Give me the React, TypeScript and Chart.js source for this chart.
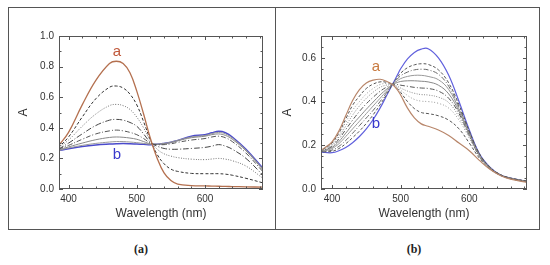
import React, { useEffect, useRef } from "react";
import { Chart, registerables } from "chart.js";
Chart.register(...registerables);

// ---------- Panel (a) data ----------
const WL_A = [385, 400, 420, 440, 460, 470, 480, 490, 500, 510, 520, 530, 540, 550, 560, 580, 600, 610, 620, 630, 640, 660, 685];
const A_CURVE_A = [0.28, 0.37, 0.55, 0.71, 0.82, 0.835, 0.82, 0.76, 0.64, 0.49, 0.33, 0.2, 0.105, 0.055, 0.032, 0.022, 0.02, 0.019, 0.018, 0.017, 0.016, 0.014, 0.012];
const A_CURVE_2 = [0.27, 0.34, 0.47, 0.59, 0.665, 0.673, 0.66, 0.62, 0.55, 0.44, 0.32, 0.225, 0.165, 0.13, 0.115, 0.102, 0.1, 0.1, 0.1, 0.097, 0.09, 0.07, 0.04];
const A_CURVE_3 = [0.27, 0.32, 0.41, 0.49, 0.545, 0.553, 0.545, 0.52, 0.47, 0.4, 0.315, 0.26, 0.23, 0.215, 0.205, 0.195, 0.192, 0.196, 0.2, 0.195, 0.185, 0.15, 0.07];
const A_CURVE_4 = [0.26, 0.3, 0.36, 0.415, 0.45, 0.455, 0.45, 0.435, 0.41, 0.36, 0.305, 0.28, 0.265, 0.26, 0.26, 0.265, 0.272, 0.28, 0.29, 0.28, 0.26, 0.2, 0.09];
const A_CURVE_5 = [0.26, 0.285, 0.325, 0.36, 0.38, 0.385, 0.38, 0.37, 0.355, 0.33, 0.3, 0.29, 0.29, 0.295, 0.305, 0.32, 0.33, 0.34, 0.345, 0.335, 0.31, 0.235, 0.113];
const A_CURVE_6 = [0.255, 0.275, 0.3, 0.322, 0.337, 0.34, 0.338, 0.333, 0.325, 0.31, 0.295, 0.292, 0.295, 0.303, 0.315, 0.335, 0.345, 0.355, 0.36, 0.35, 0.325, 0.25, 0.125];
const A_CURVE_7 = [0.25, 0.268, 0.285, 0.298, 0.307, 0.31, 0.31, 0.307, 0.303, 0.298, 0.292, 0.293, 0.298, 0.306, 0.318, 0.34, 0.35, 0.362, 0.37, 0.36, 0.333, 0.255, 0.13];
const A_CURVE_B = [0.25, 0.263, 0.278, 0.288, 0.294, 0.296, 0.297, 0.296, 0.294, 0.292, 0.29, 0.292, 0.298, 0.306, 0.318, 0.345, 0.355, 0.367, 0.377, 0.368, 0.34, 0.26, 0.135];

// ---------- Panel (b) data ----------
const WL_B = [380, 390, 400, 410, 420, 430, 440, 450, 460, 470, 480, 488, 495, 500, 510, 520, 530, 540, 555, 570, 585, 600, 615, 630, 645, 660, 685];
const B_CURVE_A = [0.17, 0.19, 0.215, 0.265, 0.335, 0.405, 0.455, 0.485, 0.498, 0.502, 0.492, 0.478, 0.455, 0.43, 0.37, 0.325, 0.298, 0.287, 0.27, 0.245, 0.21, 0.175, 0.13, 0.09, 0.062, 0.045, 0.03];
const B_CURVE_1 = [0.17, 0.17, 0.172, 0.185, 0.207, 0.235, 0.265, 0.3, 0.34, 0.385, 0.435, 0.478, 0.51, 0.53, 0.555, 0.568, 0.573, 0.57, 0.545, 0.485, 0.385, 0.265, 0.16, 0.1, 0.066, 0.05, 0.035];
const B_CURVE_2 = [0.17, 0.172, 0.178, 0.195, 0.222, 0.255, 0.29, 0.325, 0.36, 0.4, 0.443, 0.478, 0.503, 0.518, 0.535, 0.545, 0.548, 0.545, 0.525, 0.47, 0.375, 0.26, 0.158, 0.099, 0.066, 0.05, 0.035];
const B_CURVE_3 = [0.17, 0.175, 0.185, 0.207, 0.24, 0.275, 0.31, 0.345, 0.38, 0.415, 0.45, 0.478, 0.495, 0.505, 0.515, 0.52, 0.52, 0.515, 0.5, 0.455, 0.365, 0.255, 0.155, 0.098, 0.065, 0.049, 0.034];
const B_CURVE_4 = [0.17, 0.178, 0.19, 0.217, 0.255, 0.295, 0.33, 0.365, 0.398, 0.43, 0.458, 0.478, 0.487, 0.492, 0.495, 0.495, 0.493, 0.49, 0.475, 0.435, 0.355, 0.25, 0.152, 0.097, 0.065, 0.049, 0.034];
const B_CURVE_5 = [0.17, 0.18, 0.195, 0.228, 0.272, 0.315, 0.355, 0.39, 0.42, 0.447, 0.467, 0.478, 0.478, 0.475, 0.47, 0.465, 0.462, 0.46, 0.448, 0.415, 0.345, 0.245, 0.15, 0.096, 0.064, 0.048, 0.034];
const B_CURVE_6 = [0.17, 0.183, 0.2, 0.238, 0.288, 0.338, 0.38, 0.415, 0.443, 0.465, 0.476, 0.478, 0.47, 0.462, 0.448, 0.438, 0.432, 0.43, 0.42, 0.395, 0.33, 0.24, 0.148, 0.095, 0.064, 0.048, 0.033];
const B_CURVE_7 = [0.17, 0.185, 0.205, 0.248, 0.305, 0.36, 0.4, 0.435, 0.46, 0.478, 0.483, 0.478, 0.465, 0.452, 0.428, 0.41, 0.402, 0.4, 0.392, 0.37, 0.315, 0.232, 0.145, 0.094, 0.063, 0.047, 0.033];
const B_CURVE_8 = [0.17, 0.187, 0.21, 0.256, 0.32, 0.383, 0.425, 0.46, 0.48, 0.49, 0.488, 0.478, 0.46, 0.442, 0.4, 0.368, 0.35, 0.345, 0.335, 0.315, 0.275, 0.21, 0.14, 0.092, 0.063, 0.047, 0.032];
const B_CURVE_B = [0.17, 0.167, 0.166, 0.175, 0.19, 0.212, 0.24, 0.275, 0.318, 0.37, 0.43, 0.478, 0.52, 0.55, 0.595, 0.625, 0.64, 0.642, 0.6, 0.52, 0.4, 0.27, 0.16, 0.1, 0.065, 0.05, 0.035];

// ---------- Ticks ----------
const X_TICKS = [400, 500, 600];
const X_MINOR = [400, 420, 440, 460, 480, 500, 520, 540, 560, 580, 600, 620, 640, 660, 680];
const Y_TICKS_A = [0, 0.2, 0.4, 0.6, 0.8, 1.0];
const Y_MINOR_A = [0, 0.1, 0.2, 0.3, 0.4, 0.5, 0.6, 0.7, 0.8, 0.9, 1.0];
const Y_TICKS_B = [0, 0.2, 0.4, 0.6];
const Y_MINOR_B = [0, 0.05, 0.1, 0.15, 0.2, 0.25, 0.3, 0.35, 0.4, 0.45, 0.5, 0.55, 0.6, 0.65, 0.7];

const X_TITLE = "Wavelength (nm)";
const Y_TITLE = "A";

type Style = { color: string; width: number; dash: number[] };

const FONT = "'Liberation Sans', Arial, sans-serif";

function buildDatasets(wl: number[], series: number[][], styles: Style[]) {
  return series.map((vals, i) => ({
    data: vals.map((v, j) => ({ x: wl[j], y: v })),
    borderColor: styles[i].color,
    borderWidth: styles[i].width,
    borderDash: styles[i].dash,
    pointRadius: 0,
    tension: 0.4,
    fill: false,
  }));
}

function framePlugin(yMinor: number[], yMajor: number[], labels: { text: string; x: number; y: number; color: string }[]) {
  return {
    id: "frameTicks",
    afterDatasetsDraw(chart: any) {
      const { ctx, chartArea } = chart;
      const { left, right, top, bottom } = chartArea;
      const xs = chart.scales.x;
      const ys = chart.scales.y;
      ctx.save();
      ctx.strokeStyle = "#555";
      ctx.lineWidth = 1;
      ctx.strokeRect(left + 0.5, top + 0.5, right - left - 1, bottom - top - 1);
      ctx.beginPath();
      X_MINOR.forEach((v) => {
        const px = Math.round(xs.getPixelForValue(v)) + 0.5;
        if (px < left || px > right) return;
        const len = X_TICKS.includes(v) ? 4 : 2.5;
        ctx.moveTo(px, bottom);
        ctx.lineTo(px, bottom - len);
        ctx.moveTo(px, top);
        ctx.lineTo(px, top + len);
      });
      yMinor.forEach((v) => {
        const py = Math.round(ys.getPixelForValue(v)) + 0.5;
        if (py < top - 1 || py > bottom + 1) return;
        const len = yMajor.some((m) => Math.abs(m - v) < 1e-9) ? 4 : 2.5;
        ctx.moveTo(left, py);
        ctx.lineTo(left + len, py);
        ctx.moveTo(right, py);
        ctx.lineTo(right - len, py);
      });
      ctx.stroke();
      ctx.font = `15px ${FONT}`;
      ctx.textAlign = "center";
      ctx.textBaseline = "middle";
      labels.forEach((l) => {
        ctx.fillStyle = l.color;
        ctx.fillText(l.text, xs.getPixelForValue(l.x), ys.getPixelForValue(l.y));
      });
      ctx.restore();
    },
  };
}

function makeConfig(opts: {
  datasets: any[];
  xMin: number;
  xMax: number;
  yMax: number;
  yTicks: number[];
  yMinor: number[];
  yAxisWidth: number;
  yTitlePad: number;
  labels: { text: string; x: number; y: number; color: string }[];
}) {
  return {
    type: "line" as const,
    data: { datasets: opts.datasets },
    options: {
      responsive: false,
      animation: false,
      events: [],
      layout: { padding: { top: 28, right: 11, left: 0, bottom: 0 } },
      plugins: { legend: { display: false }, tooltip: { enabled: false } },
      scales: {
        x: {
          type: "linear",
          min: opts.xMin,
          max: opts.xMax,
          grid: { display: false, drawTicks: false },
          border: { display: false },
          afterBuildTicks: (s: any) => {
            s.ticks = X_TICKS.map((v) => ({ value: v }));
          },
          afterFit: (s: any) => {
            s.height = 39;
          },
          ticks: {
            padding: 4,
            color: "#333",
            font: { family: FONT, size: 10 },
            maxRotation: 0,
            autoSkip: false,
            callback: (v: any) => String(v),
          },
          title: {
            display: true,
            text: X_TITLE,
            color: "#333",
            font: { family: FONT, size: 12 },
            padding: { top: 0, bottom: 7 },
          },
        },
        y: {
          type: "linear",
          min: 0,
          max: opts.yMax,
          grid: { display: false, drawTicks: false },
          border: { display: false },
          afterBuildTicks: (s: any) => {
            s.ticks = opts.yTicks.map((v) => ({ value: v }));
          },
          afterFit: (s: any) => {
            s.width = opts.yAxisWidth;
          },
          ticks: {
            padding: 5,
            color: "#333",
            font: { family: FONT, size: 10 },
            autoSkip: false,
            callback: (v: any) => Number(v).toFixed(1),
          },
          title: {
            display: true,
            text: Y_TITLE,
            color: "#333",
            font: { family: FONT, size: 12 },
            padding: { top: opts.yTitlePad, bottom: 0 },
          },
        },
      },
    },
    plugins: [framePlugin(opts.yMinor, opts.yTicks, opts.labels)],
  };
}

const STYLES_A: Style[] = [
  { color: "#b4704f", width: 1.3, dash: [] },
  { color: "#333333", width: 1, dash: [3, 2] },
  { color: "#777777", width: 1, dash: [1, 1.5] },
  { color: "#444444", width: 1, dash: [6, 2, 1, 2] },
  { color: "#555555", width: 1, dash: [5, 2, 1, 2] },
  { color: "#888888", width: 1, dash: [] },
  { color: "#9a9a9a", width: 1, dash: [] },
  { color: "#4a4acc", width: 1.5, dash: [] },
];

const STYLES_B: Style[] = [
  { color: "#b8866a", width: 1.2, dash: [] },
  { color: "#555555", width: 1, dash: [3, 2] },
  { color: "#666666", width: 1, dash: [5, 2, 1, 2] },
  { color: "#999999", width: 1, dash: [] },
  { color: "#888888", width: 1, dash: [] },
  { color: "#555555", width: 1, dash: [5, 2, 1, 2] },
  { color: "#888888", width: 1, dash: [1, 1.5] },
  { color: "#999999", width: 1, dash: [1, 2] },
  { color: "#555555", width: 1, dash: [3, 2] },
  { color: "#6060dd", width: 1.2, dash: [] },
];

function Panel(props: { config: () => any; left: number; width: number }) {
  const ref = useRef<HTMLCanvasElement | null>(null);
  useEffect(() => {
    if (!ref.current) return;
    const chart = new Chart(ref.current, props.config());
    return () => chart.destroy();
  }, []);
  return (
    <canvas
      ref={ref}
      width={props.width}
      height={220}
      style={{ position: "absolute", left: props.left, top: 8, width: props.width, height: 220 }}
    />
  );
}

export default function App() {
  const cfgA = () =>
    makeConfig({
      datasets: buildDatasets(
        WL_A,
        [A_CURVE_A, A_CURVE_2, A_CURVE_3, A_CURVE_4, A_CURVE_5, A_CURVE_6, A_CURVE_7, A_CURVE_B],
        STYLES_A
      ),
      xMin: 386,
      xMax: 685,
      yMax: 1.0,
      yTicks: Y_TICKS_A,
      yMinor: Y_MINOR_A,
      yAxisWidth: 50,
      yTitlePad: 7,
      labels: [
        { text: "a", x: 471, y: 0.895, color: "#c0583a" },
        { text: "b", x: 471, y: 0.222, color: "#3a3acc" },
      ],
    });
  const cfgB = () =>
    makeConfig({
      datasets: buildDatasets(
        WL_B,
        [B_CURVE_A, B_CURVE_1, B_CURVE_2, B_CURVE_3, B_CURVE_4, B_CURVE_5, B_CURVE_6, B_CURVE_7, B_CURVE_8, B_CURVE_B],
        STYLES_B
      ),
      xMin: 384,
      xMax: 684,
      yMax: 0.7,
      yTicks: Y_TICKS_B,
      yMinor: Y_MINOR_B,
      yAxisWidth: 45,
      yTitlePad: 4,
      labels: [
        { text: "a", x: 464, y: 0.56, color: "#c87a40" },
        { text: "b", x: 464, y: 0.3, color: "#3a3acc" },
      ],
    });

  return (
    <div style={{ position: "fixed", left: 0, top: 0, width: 550, height: 265, background: "#fff", overflow: "hidden" }}>
      <div style={{ position: "absolute", left: 8, top: 7, width: 530, height: 221, border: "1px solid #555" }} />
      <div style={{ position: "absolute", left: 275, top: 7, width: 1, height: 223, background: "#555" }} />
      <Panel config={cfgA} left={9} width={265} />
      <Panel config={cfgB} left={276} width={262} />
      <div
        style={{
          position: "absolute",
          left: 121,
          width: 40,
          top: 242,
          textAlign: "center",
          fontFamily: "'Liberation Serif', 'Times New Roman', serif",
          fontWeight: "bold",
          fontSize: 12,
          color: "#222",
        }}
      >
        (a)
      </div>
      <div
        style={{
          position: "absolute",
          left: 394,
          width: 40,
          top: 242,
          textAlign: "center",
          fontFamily: "'Liberation Serif', 'Times New Roman', serif",
          fontWeight: "bold",
          fontSize: 12,
          color: "#222",
        }}
      >
        (b)
      </div>
    </div>
  );
}
